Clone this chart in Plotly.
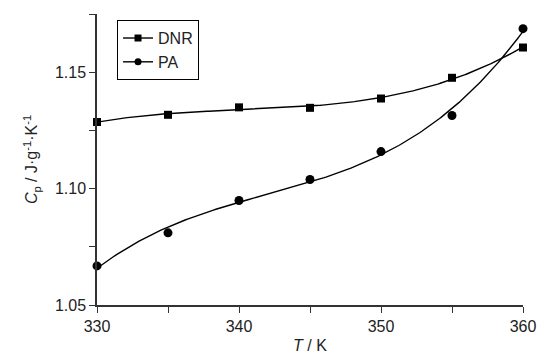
import numpy as np
import plotly.graph_objects as go

temperature = [330, 335, 340, 345, 350, 355, 360]
cp_dnr = [1.1286, 1.1317, 1.1349, 1.1347, 1.1387, 1.1476, 1.1606]
cp_pa = [1.0668, 1.0810, 1.0949, 1.1039, 1.1159, 1.1314, 1.1687]
x_ticks = [330, 340, 350, 360]
y_ticks = [1.05, 1.10, 1.15]
y_tick_text = ["1.05", "1.10", "1.15"]

FONT = "Liberation Sans, Arial, sans-serif"
TXT = "#222222"

# fitted curves (cubic polynomial fit of the measured data, as in the original)
xs = np.linspace(min(temperature), max(temperature), 241)
fit_dnr = np.polyval(np.polyfit(temperature, cp_dnr, 3), xs)
fit_pa = np.polyval(np.polyfit(temperature, cp_pa, 3), xs)

fig = go.Figure()
line_style = dict(color="black", width=1.4)
fig.add_trace(go.Scatter(x=xs, y=fit_dnr, mode="lines", line=line_style, showlegend=False, hoverinfo="skip"))
fig.add_trace(go.Scatter(x=xs, y=fit_pa, mode="lines", line=line_style, showlegend=False, hoverinfo="skip"))
fig.add_trace(go.Scatter(x=temperature, y=cp_dnr, mode="markers", showlegend=False,
                         marker=dict(symbol="square", size=8, color="black"), cliponaxis=False))
fig.add_trace(go.Scatter(x=temperature, y=cp_pa, mode="markers", showlegend=False,
                         marker=dict(symbol="circle", size=9, color="black"), cliponaxis=False))
# legend entries
fig.add_trace(go.Scatter(x=[None], y=[None], mode="lines+markers", name="DNR", line=line_style,
                         marker=dict(symbol="square", size=7, color="black")))
fig.add_trace(go.Scatter(x=[None], y=[None], mode="lines+markers", name="PA", line=line_style,
                         marker=dict(symbol="circle", size=7, color="black")))

axis_common = dict(showgrid=False, zeroline=False, showline=True, linecolor="#333333", linewidth=1.5,
                   ticks="outside", ticklen=6, tickwidth=1.3, tickcolor="#333333", automargin=False,
                   tickfont=dict(family=FONT, size=16, color=TXT))

fig.update_xaxes(range=[330, 360], tickvals=x_ticks, ticktext=[str(v) for v in x_ticks],
                 minor=dict(dtick=5, tick0=330, ticks="outside", ticklen=6, tickwidth=1.3, tickcolor="#333333"),
                 title=dict(text="<i>T</i> / K", font=dict(family=FONT, size=16, color=TXT), standoff=6),
                 **axis_common)
fig.update_yaxes(range=[1.05, 1.175], tickvals=y_ticks, ticktext=y_tick_text,
                 minor=dict(dtick=0.025, tick0=1.05, ticks="outside", ticklen=6, tickwidth=1.3, tickcolor="#333333"),
                 title=dict(text="<i>C</i><sub>p</sub> / J·g<sup>-1</sup>·K<sup>-1</sup>",
                            font=dict(family=FONT, size=16, color=TXT), standoff=13),
                 **axis_common)

fig.update_layout(
    width=538, height=356,
    margin=dict(l=97, r=15, t=14, b=51),
    paper_bgcolor="white", plot_bgcolor="white",
    font=dict(family=FONT, size=16, color=TXT),
    legend=dict(x=0.047, y=0.979, xanchor="left", yanchor="top",
                bordercolor="black", borderwidth=1, bgcolor="white",
                font=dict(family=FONT, size=16, color=TXT),
                tracegroupgap=0, itemwidth=30),
)

fig.write_html("out.html", config={"displayModeBar": False},
               post_script="document.body.style.margin='0';document.body.style.overflow='hidden';")
